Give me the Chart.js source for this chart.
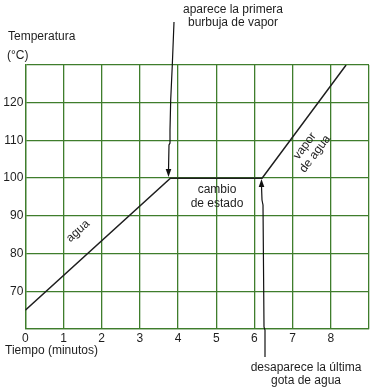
<!DOCTYPE html>
<html>
<head>
<meta charset="utf-8">
<script src="https://cdn.jsdelivr.net/npm/chart.js@4"></script>
<style>
  body { margin: 0; background: #fff; }
  .wrap { width: 373px; height: 389px; position: relative; }
</style>
</head>
<body>
<div class="wrap"><canvas id="grafico"></canvas></div>
<script>
// datos de la curva de calentamiento
const tiempo = [0, 3.8, 6.2, 8.4];
const temperatura = [65, 100, 100, 130];
const ticksX = [0, 1, 2, 3, 4, 5, 6, 7, 8];
const ticksY = [70, 80, 90, 100, 110, 120];

const verde = "#3f7d2c";
const tinta = "#1e1e1e";
const fuente = '"Liberation Sans", Arial, sans-serif';

// textos y flechas encima del grafico
const notas = {
  id: "notas",
  afterDraw(chart) {
    const ctx = chart.ctx;
    ctx.save();
    ctx.fillStyle = tinta;
    ctx.font = "12px " + fuente;
    ctx.textBaseline = "alphabetic";

    ctx.textAlign = "left";
    ctx.fillText("Temperatura", 8, 40);
    ctx.fillText("(°C)", 7, 59);
    ctx.fillText("Tiempo (minutos)", 5, 354);

    ctx.textAlign = "center";
    ctx.fillText("aparece la primera", 233, 13);
    ctx.fillText("burbuja de vapor", 233, 26);
    ctx.fillText("cambio", 217, 193);
    ctx.fillText("de estado", 217, 207);
    ctx.fillText("desaparece la última", 306, 371);
    ctx.fillText("gota de agua", 306, 384);

    ctx.textBaseline = "middle";
    ctx.save();
    ctx.translate(78, 231);
    ctx.rotate(-42 * Math.PI / 180);
    ctx.fillText("agua", 0, 0);
    ctx.restore();

    ctx.save();
    ctx.translate(310, 150);
    ctx.rotate(-53 * Math.PI / 180);
    ctx.fillText("vapor", 0, -6.5);
    ctx.fillText("de agua", 0, 6.5);
    ctx.restore();

    // flechas dibujadas a mano
    const flecha = (pts, tip, dir) => {
      ctx.strokeStyle = "#111";
      ctx.lineWidth = 1.2;
      ctx.beginPath();
      ctx.moveTo(pts[0][0], pts[0][1]);
      pts.slice(1).forEach(p => ctx.lineTo(p[0], p[1]));
      ctx.stroke();
      ctx.fillStyle = "#111";
      ctx.beginPath();
      ctx.moveTo(tip[0], tip[1]);
      ctx.lineTo(tip[0] - 2.8, tip[1] - 8 * dir);
      ctx.lineTo(tip[0] + 2.8, tip[1] - 8 * dir);
      ctx.closePath();
      ctx.fill();
    };
    flecha([[174, 22], [172.3, 65], [170.7, 100], [170, 130], [170, 143], [169, 145], [168.5, 171]], [168.5, 177], 1);
    flecha([[265, 357], [265, 330], [264, 327], [263, 205], [262, 200], [261.5, 186]], [261.5, 179], -1);

    ctx.restore();
  }
};

new Chart(document.getElementById("grafico"), {
  type: "scatter",
  data: {
    datasets: [{
      data: tiempo.map((t, i) => ({ x: t, y: temperatura[i] })),
      showLine: true,
      borderColor: tinta,
      borderWidth: 1.5,
      pointRadius: 0,
      tension: 0
    }]
  },
  options: {
    responsive: true,
    maintainAspectRatio: false,
    animation: false,
    layout: { padding: { left: 0, right: 4, top: 65, bottom: 40 } },
    plugins: { legend: { display: false }, tooltip: { enabled: false } },
    scales: {
      x: {
        type: "linear",
        min: 0,
        max: 9,
        afterFit: s => { s.height = 20; },
        afterBuildTicks: s => { s.ticks = ticksX.concat([9]).map(v => ({ value: v })); },
        grid: { color: verde, lineWidth: 1.3, drawTicks: false },
        border: { color: verde, width: 1.3 },
        ticks: {
          color: tinta,
          padding: 2,
          maxRotation: 0,
          font: { size: 12, family: fuente },
          callback: v => ticksX.includes(v) ? String(v) : ""
        }
      },
      y: {
        type: "linear",
        min: 60,
        max: 130,
        afterFit: s => { s.width = 25.3; },
        afterBuildTicks: s => { s.ticks = [60].concat(ticksY, [130]).map(v => ({ value: v })); },
        grid: { color: verde, lineWidth: 1.3, drawTicks: false },
        border: { color: verde, width: 1.3 },
        ticks: {
          color: tinta,
          padding: 2,
          font: { size: 12, family: fuente },
          callback: v => ticksY.includes(v) ? String(v) : ""
        }
      }
    }
  },
  plugins: [notas]
});
</script>
</body>
</html>
